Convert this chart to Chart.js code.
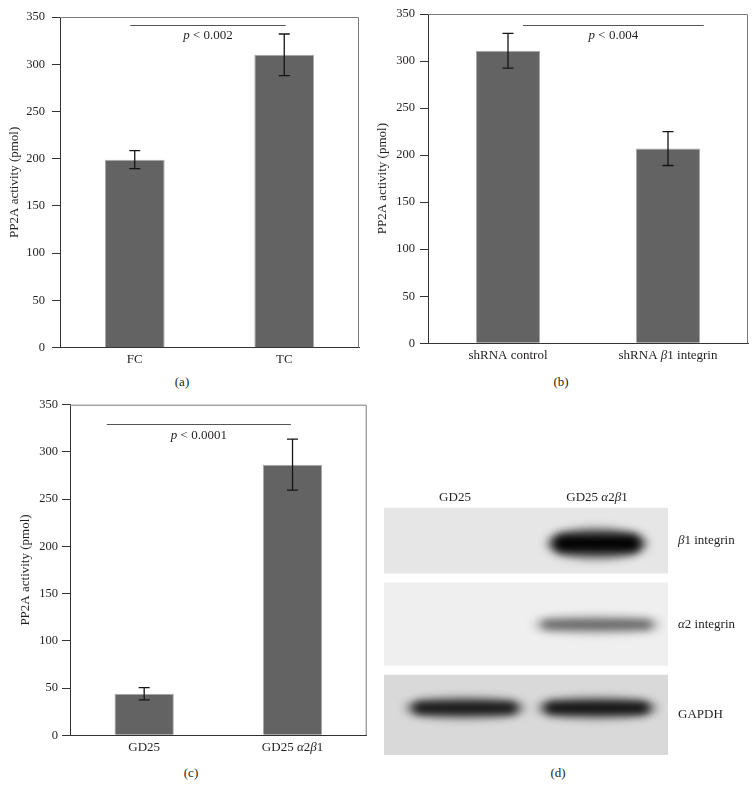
<!DOCTYPE html>
<html>
<head>
<meta charset="utf-8">
<script src="https://cdn.jsdelivr.net/npm/chart.js@4.4.1/dist/chart.umd.min.js"></script>
<style>
  html, body { margin: 0; padding: 0; background: #fff; }
  #fig { position: relative; width: 756px; height: 799px; overflow: hidden;
         font-family: "Liberation Serif", "DejaVu Serif", serif; color: #231f20; }
  #fig canvas { position: absolute; }
  .cap { position: absolute; font-size: 13px; transform: translate(-50%, -50%); white-space: nowrap; }
</style>
</head>
<body>
<div id="fig">
  <canvas id="chartA" width="372" height="372" style="left:0;top:0"></canvas>
  <canvas id="chartB" width="384" height="372" style="left:372px;top:0"></canvas>
  <canvas id="chartC" width="378" height="372" style="left:0;top:390px"></canvas>
  <canvas id="chartD" width="378" height="275" style="left:378px;top:480px"></canvas>
  <div class="cap" style="left:182px;top:382px">(a)</div>
  <div class="cap" style="left:561px;top:382px">(b)</div>
  <div class="cap" style="left:191px;top:773px">(c)</div>
  <div class="cap" style="left:558px;top:773px">(d)</div>
</div>
<script>
// ─── DATA ─────────────────────────────────────────────────────────────────────
const Y_TITLE = 'PP2A activity (pmol)';
const Y_TICKS = [0, 50, 100, 150, 200, 250, 300, 350];

const A_LABELS = ['FC', 'TC'];
const A_MEANS  = [199, 310];
const A_ERR    = [9.5, 22];
const A_P      = 'p < 0.002';

const B_LABELS = ['shRNA control', 'shRNA β1 integrin'];
const B_MEANS  = [311, 207];
const B_ERR    = [18.5, 18];
const B_P      = 'p < 0.004';

const C_LABELS = ['GD25', 'GD25 α2β1'];
const C_MEANS  = [44, 286.5];
const C_ERR    = [6.5, 27];
const C_P      = 'p < 0.0001';

// western blot (d): band darkness per row, one list per lane
const BLOT_LANES = ['GD25', 'GD25 α2β1'];
const BLOT_ROWS  = ['β1 integrin', 'α2 integrin', 'GAPDH'];
const BLOT_GD25  = [0, 0, 0.86];
const BLOT_A2B1  = [1, 0.48, 0.9];

// ─── STYLE ────────────────────────────────────────────────────────────────────
const INK  = '#231f20';
const FONT = '"Liberation Serif", "DejaVu Serif", serif';
Chart.defaults.font.family = FONT;
Chart.defaults.color = INK;

// split text into [text, italic] parts: greek letters and a leading "p" go italic
function toParts(text) {
  const parts = [];
  let s = text;
  if (/^p /.test(s)) { parts.push(['p', true]); s = s.slice(1); }
  s.split(/([αβ])/).forEach(t => { if (t) parts.push([t, /[αβ]/.test(t)]); });
  return parts;
}

function drawMixed(ctx, text, x, y, size, align) {
  const parts = toParts(text);
  const font = it => `${it ? 'italic ' : ''}${size}px ${FONT}`;
  let w = 0;
  parts.forEach(([t, it]) => { ctx.font = font(it); w += ctx.measureText(t).width; });
  let cx = align === 'left' ? x : x - w / 2;
  ctx.textBaseline = 'middle';
  ctx.textAlign = 'left';
  ctx.fillStyle = INK;
  parts.forEach(([t, it]) => {
    ctx.font = font(it);
    ctx.fillText(t, cx, y);
    cx += ctx.measureText(t).width;
  });
}

// ─── BAR PANELS ───────────────────────────────────────────────────────────────
const panelPlugin = {
  id: 'panel',
  afterDatasetsDraw(chart) {
    const { ctx, chartArea: a, scales: { x, y } } = chart;
    const o = chart.options.plugins.panel;
    const meta = chart.getDatasetMeta(0);
    ctx.save();

    // top and right frame
    ctx.strokeStyle = '#7a7a7a';
    ctx.lineWidth = 1;
    ctx.beginPath();
    ctx.moveTo(a.left, a.top + 0.5);
    ctx.lineTo(a.right - 0.5, a.top + 0.5);
    ctx.lineTo(a.right - 0.5, a.bottom);
    ctx.stroke();

    // error bars
    ctx.strokeStyle = '#151515';
    ctx.lineWidth = 1.3;
    o.means.forEach((m, i) => {
      const bx = meta.data[i].x;
      const hi = y.getPixelForValue(m + o.err[i]);
      const lo = y.getPixelForValue(m - o.err[i]);
      ctx.beginPath();
      ctx.moveTo(bx, hi); ctx.lineTo(bx, lo);
      ctx.moveTo(bx - 5.5, hi); ctx.lineTo(bx + 5.5, hi);
      ctx.moveTo(bx - 5.5, lo); ctx.lineTo(bx + 5.5, lo);
      ctx.stroke();
    });

    // significance line + p value
    const sy = y.getPixelForValue(o.sigY);
    const x0 = x.getPixelForValue(o.sigSpan[0]);
    const x1 = x.getPixelForValue(o.sigSpan[1]);
    ctx.strokeStyle = '#555';
    ctx.lineWidth = 1;
    ctx.beginPath();
    ctx.moveTo(x0, Math.round(sy) + 0.5); ctx.lineTo(x1, Math.round(sy) + 0.5);
    ctx.stroke();
    drawMixed(ctx, o.p, (x0 + x1) / 2, sy + 11, 13);

    // category labels
    o.labels.forEach((lab, i) => {
      drawMixed(ctx, lab, x.getPixelForValue(i), a.bottom + o.labelDy, 13);
    });
    ctx.restore();
  },
};

function makeBarChart(id, labels, means, err, p, cfg) {
  return new Chart(document.getElementById(id), {
    type: 'bar',
    data: {
      labels,
      datasets: [{
        data: means,
        backgroundColor: '#636363',
        borderColor: '#a9a9a9',
        borderWidth: 1,
        barPercentage: 0.4,
        categoryPercentage: 1,
      }],
    },
    options: {
      responsive: false, animation: false,
      layout: { padding: { top: cfg.top, right: cfg.right, left: 0, bottom: 0 } },
      plugins: {
        legend: { display: false },
        tooltip: { enabled: false },
        panel: { means, err, labels, p, sigY: cfg.sigY, sigSpan: cfg.sigSpan, labelDy: cfg.labelDy },
      },
      scales: {
        x: {
          grid: { display: false, drawTicks: false },
          border: { display: true, color: '#333', width: 1 },
          ticks: { display: false },
          afterFit: s => { s.height = cfg.xHeight; },
        },
        y: {
          min: 0, max: 350,
          afterBuildTicks: s => { s.ticks = Y_TICKS.map(v => ({ value: v })); },
          ticks: { padding: cfg.tickPad, font: { size: 12.5 }, color: INK },
          grid: { drawOnChartArea: false, drawTicks: true, tickLength: 8, color: '#333', lineWidth: 1 },
          border: { display: true, color: '#333', width: 1 },
          title: { display: true, text: Y_TITLE, font: { size: 13 }, color: INK, padding: { top: cfg.titlePad, bottom: 0 } },
          afterFit: s => { s.width = cfg.yWidth; },
        },
      },
    },
    plugins: [panelPlugin],
  });
}

makeBarChart('chartA', A_LABELS, A_MEANS, A_ERR, A_P, {
  top: 17, right: 13, xHeight: 24.3, yWidth: 60, tickPad: 7, titlePad: 7,
  sigY: 342, sigSpan: [-0.03, 1.01], labelDy: 11.5,
});
makeBarChart('chartB', B_LABELS, B_MEANS, B_ERR, B_P, {
  top: 14, right: 8, xHeight: 28.7, yWidth: 56, tickPad: 5, titlePad: 3,
  sigY: 338.7, sigSpan: [0.094, 1.223], labelDy: 12.7,
});
makeBarChart('chartC', C_LABELS, C_MEANS, C_ERR, C_P, {
  top: 14.7, right: 11.3, xHeight: 26.7, yWidth: 70, tickPad: 4, titlePad: 18,
  sigY: 329.3, sigSpan: [-0.252, 0.989], labelDy: 12.4,
});

// ─── BLOT PANEL ───────────────────────────────────────────────────────────────
const STRIP_H  = [65.6, 83, 80];
const STRIP_BG = ['#e6e6e6', '#efefef', '#d9d9d9'];
const BAND_W   = [100, 128, 120];
const BAND_H   = [30, 16, 20];
const BAND_DY  = [3, 0.5, -7];
const LANE_DX  = [10, 0];
const STRIP_GAP = 9;

function drawBand(ctx, cx, cy, w, h, v) {
  ctx.save();
  ctx.filter = 'blur(5px)';
  ctx.fillStyle = `rgba(0,0,0,${0.6 * v})`;
  ctx.beginPath(); ctx.ellipse(cx, cy, w / 2, h / 2, 0, 0, Math.PI * 2); ctx.fill();
  ctx.filter = 'blur(4px)';
  ctx.fillStyle = `rgba(0,0,0,${v})`;
  const iw = w * 0.86, ih = h * 0.55;
  ctx.beginPath(); ctx.roundRect(cx - iw / 2, cy - ih / 2, iw, ih, ih / 2); ctx.fill();
  ctx.restore();
}

const blotPlugin = {
  id: 'blot',
  afterDraw(chart) {
    const { ctx, chartArea: a, scales: { x } } = chart;
    const lanes = [BLOT_GD25, BLOT_A2B1];
    const k = (a.bottom - a.top - STRIP_GAP * (BLOT_ROWS.length - 1)) / STRIP_H.reduce((s, h) => s + h, 0);
    let y0 = a.top;
    ctx.save();
    BLOT_ROWS.forEach((row, r) => {
      const h = STRIP_H[r] * k;
      ctx.fillStyle = STRIP_BG[r];
      ctx.fillRect(a.left, y0, a.right - a.left, h);
      ctx.save();
      ctx.beginPath(); ctx.rect(a.left, y0, a.right - a.left, h); ctx.clip();
      lanes.forEach((vals, l) => {
        if (!vals[r]) return;
        drawBand(ctx, x.getPixelForValue(l) + LANE_DX[l], y0 + h / 2 + BAND_DY[r], BAND_W[r], BAND_H[r], vals[r]);
      });
      ctx.restore();
      drawMixed(ctx, row, a.right + 10, y0 + h / 2, 13, 'left');
      y0 += h + STRIP_GAP;
    });
    BLOT_LANES.forEach((lane, l) => drawMixed(ctx, lane, x.getPixelForValue(l), a.top - 10, 13));
    ctx.restore();
  },
};

new Chart(document.getElementById('chartD'), {
  type: 'bar',
  data: { labels: BLOT_LANES, datasets: [] },
  options: {
    responsive: false, animation: false,
    layout: { padding: { left: 6, right: 88, top: 0, bottom: 0 } },
    plugins: { legend: { display: false }, tooltip: { enabled: false } },
    scales: {
      x: {
        position: 'top',
        grid: { display: false, drawTicks: false },
        border: { display: false },
        ticks: { display: false },
        afterFit: s => { s.height = 27.7; },
      },
      y: { type: 'category', labels: BLOT_ROWS, display: false },
    },
  },
  plugins: [blotPlugin],
});
</script>
</body>
</html>
